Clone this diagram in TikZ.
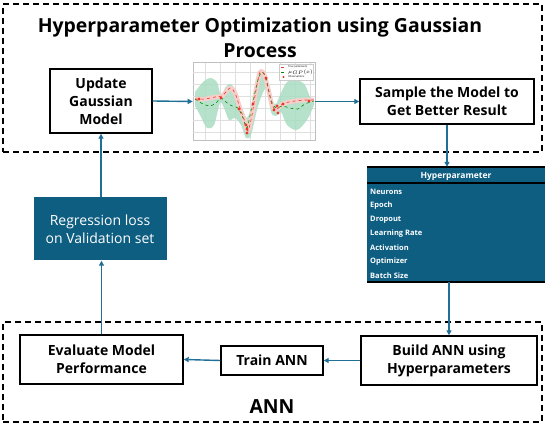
\documentclass[tikz,border=0pt]{standalone}
\usepackage{fontspec}
\setmainfont{Open Sans}
\usepackage{tikz}
\usetikzlibrary{arrows.meta, positioning, calc}

\definecolor{tealblue}{HTML}{0E5E82}
\definecolor{arrowblue}{HTML}{1F6F96}
\definecolor{bandgreen}{HTML}{A9DDC2}
\definecolor{gpred}{HTML}{E33A2C}

\begin{document}
\begin{tikzpicture}[x=1pt, y=-1pt,
  box/.style={draw, line width=1.4pt, fill=white, align=center,
              font=\fontsize{14}{18}\selectfont\bfseries, inner sep=0pt},
  lossbox/.style={fill=tealblue, text=white, align=center,
                  font=\fontsize{14}{18}\selectfont,
                  minimum width=133pt, minimum height=63pt},
  groupframe/.style={draw, line width=1.5pt, dash pattern=on 6pt off 4pt},
  arrow/.style={-{Triangle[length=5pt,width=5pt]}, arrowblue, line width=1.4pt},
  hprow/.style={anchor=west, text=white, font=\fontsize{7.5}{8}\selectfont\bfseries,
                inner sep=0pt},
  title/.style={font=\fontsize{19.4}{25}\selectfont\bfseries, align=center}
]
\useasboundingbox (0,0) rectangle (550,430);

% dashed group frames
\node[groupframe, minimum width=539pt, minimum height=148pt] (gpframe) at (272.5,78) {};
\node[groupframe, minimum width=539pt, minimum height=100pt] (annframe) at (272.5,372) {};

\node[title] (gptitle) at (260,37.5) {Hyperparameter Optimization using Gaussian\\Process};
\node[title] (anntitle) at (272,407) {ANN};

% Gaussian process part
\node[box, minimum width=102pt, minimum height=64pt] (update) at (101,101) {Update\\Gaussian\\Model};
\node[draw=gray!50, line width=0.6pt, minimum width=122pt, minimum height=78pt] (gpplot) at (254,101.5) {};
\node[box, minimum width=174pt, minimum height=45pt] (sample) at (447,101.5) {Sample the Model to\\Get Better Result};

% small GP plot
\begin{scope}
  \clip (gpplot.north west) rectangle (gpplot.south east);
  \foreach \gx in {205,220,...,310}
    \draw[gray!25, line width=0.4pt] (\gx,63) -- (\gx,140);
  \foreach \gy in {72,84,...,136}
    \draw[gray!25, line width=0.4pt] (193,\gy) -- (315,\gy);
  \fill[bandgreen, opacity=0.85] plot[smooth] coordinates {
    (195,92) (203,82) (210,78) (217,82) (221,96) (225,88) (230,84) (236,90)
    (241,105) (247,118) (253,100) (259,72) (263,70) (267,78) (272,100)
    (276,104) (280,95) (287,82) (297,80) (305,85) (310,97) (314,101)}
    -- plot[smooth] coordinates {
    (314,105) (307,120) (297,130) (287,125) (281,112) (276,116) (271,112)
    (267,88) (262,95) (257,110) (251,135) (246,138) (241,125) (235,118)
    (229,120) (224,108) (220,103) (214,125) (207,128) (200,115) (195,106)}
    -- cycle;
  \draw[gpred!25, line width=4.5pt, line join=round] plot[smooth] coordinates {
    (195,99) (205,99) (215,97) (222,96) (230,88) (235,93) (240,108) (245,122)
    (248,131) (252,115) (256,90) (260,72) (264,74) (268,88) (272,105)
    (276,110) (280,106) (285,103) (295,101) (305,100) (314,100)};
  \draw[green!55!black, dashed, line width=0.6pt] plot[smooth] coordinates {
    (195,99) (203,104) (210,106) (216,103) (221,98) (226,102) (232,106)
    (238,108) (243,118) (247,128) (252,106) (258,80) (262,72) (266,78)
    (271,100) (276,108) (282,106) (290,108) (298,109) (305,104) (314,101)};
  \draw[gpred, dashed, line width=0.6pt] plot[smooth] coordinates {
    (195,99) (205,99) (215,97) (222,96) (230,88) (235,93) (240,108) (245,122)
    (248,131) (252,115) (256,90) (260,72) (264,74) (268,88) (272,105)
    (276,110) (280,106) (285,103) (295,101) (305,100) (314,100)};
  \foreach \ox/\oy in {199/99, 221/98, 239/109, 246/125, 247/129, 247/133,
                       253/104, 266/78, 274/110, 277/106, 278/113, 283/104, 309/101}
    \fill[gpred] (\ox,\oy) circle (1.6pt);
  % legend
  \draw[gray!40, fill=white, line width=0.3pt] (279,64) rectangle (313,80);
  \draw[gpred, dashed, line width=0.5pt] (281,67) -- (286,67);
  \draw[green!55!black, dashed, line width=0.5pt] (281,72) -- (286,72);
  \fill[gpred] (283.5,77) circle (1.2pt);
  \node[anchor=west, inner sep=0pt, font=\fontsize{2.6}{3}\selectfont] (lgtrue) at (288,67) {True (unknown)};
  \node[anchor=west, inner sep=0pt, font=\fontsize{2.6}{3}\selectfont] (lgmean) at (288,72) {$\mu_{GP}(x)$};
  \node[anchor=west, inner sep=0pt, font=\fontsize{2.6}{3}\selectfont] (lgobs) at (288,77) {Observations};
\end{scope}

% hyperparameter table
\node[fill=tealblue, minimum width=178pt, minimum height=115pt, inner sep=0pt] (hptab) at (456,224.5) {};
\draw[line width=2.5pt] (hptab.north west) -- (hptab.north east);
\draw[line width=2pt] (367,183) -- (545,183);
\draw[line width=2.5pt] (hptab.south west) -- (hptab.south east);
\node[text=white, font=\fontsize{8.5}{9}\selectfont\bfseries, inner sep=0pt] (hphead) at (456,176) {Hyperparameter};
\foreach \hpname [count=\i from 0] in {Neurons, Epoch, Dropout, Learning Rate, Activation, Optimizer, Batch Size}
  \node[hprow] (hprow\i) at (370,192+14*\i) {\hpname};

% ANN part
\node[box, minimum width=176pt, minimum height=49pt] (build) at (449,360.5) {Build ANN using\\Hyperparameters};
\node[box, minimum width=102pt, minimum height=29pt] (train) at (272,360.5) {Train ANN};
\node[box, minimum width=163pt, minimum height=49pt] (evaluate) at (101.5,359.5) {Evaluate Model\\Performance};
\node[lossbox] (loss) at (100,229) {Regression loss\\on Validation set};

% connectors
\draw[arrow] (update.east) -- (gpplot.west);
\draw[arrow] (gpplot.east) -- (sample.west);
\draw[arrow] (sample.south) -- (sample.south |- hptab.north);
\draw[arrow] (build.north |- hptab.south) -- (build.north);
\draw[arrow] (build.west) -- (train.east);
\draw[arrow] (train.west) -- (evaluate.east);
\draw[arrow] (evaluate.north) -- (evaluate.north |- loss.south);
\draw[arrow] (loss.north -| update.south) -- (update.south);

\end{tikzpicture}
\end{document}
